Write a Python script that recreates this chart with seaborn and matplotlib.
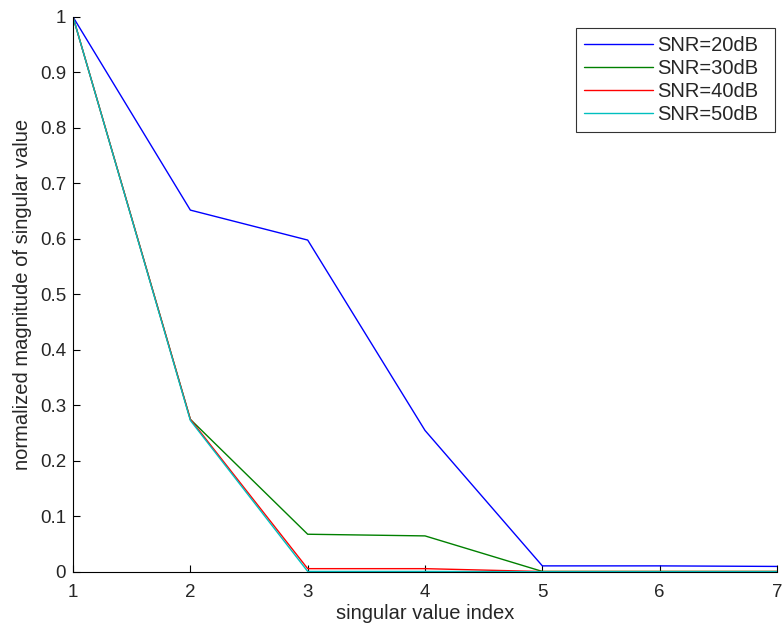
import numpy as np
import pandas as pd
import matplotlib
matplotlib.use("Agg")
import matplotlib.pyplot as plt
import seaborn as sns

index = [1, 2, 3, 4, 5, 6, 7]
snr20 = [1.0, 0.652, 0.598, 0.255, 0.011, 0.011, 0.010]
snr30 = [1.0, 0.275, 0.068, 0.065, 0.001, 0.001, 0.001]
snr40 = [1.0, 0.275, 0.006, 0.006, 0.0008, 0.0008, 0.0008]
snr50 = [1.0, 0.273, 0.001, 0.001, 0.0005, 0.0005, 0.0005]
labels = ["SNR=20dB", "SNR=30dB", "SNR=40dB", "SNR=50dB"]
colors = ["#0000ff", "#008000", "#ff0000", "#00bfbf"]

rows = []
for lab, vals in zip(labels, [snr20, snr30, snr40, snr50]):
    for i, v in zip(index, vals):
        rows.append({"idx": i, "val": v, "snr": lab})
df = pd.DataFrame(rows)

sns.set_style("white")
plt.rcParams['font.family'] = ['Liberation Sans', 'DejaVu Sans']
plt.rcParams['xtick.direction'] = 'in'
plt.rcParams['ytick.direction'] = 'in'

fig = plt.figure(figsize=(7.82, 6.28), dpi=100)
ax = fig.add_axes([0.0934, 0.0892, 0.9002, 0.8838])
sns.lineplot(data=df, x="idx", y="val", hue="snr", palette=colors, ax=ax,
             linewidth=1.0, legend=True)

ax.set_xlim(1, 7)
ax.set_ylim(0, 1)
ax.set_xticks(index)
ax.set_xticklabels([str(i) for i in index])
yt = [0, 0.1, 0.2, 0.3, 0.4, 0.5, 0.6, 0.7, 0.8, 0.9, 1]
ax.set_yticks(yt)
ax.set_yticklabels(["0", "0.1", "0.2", "0.3", "0.4", "0.5", "0.6", "0.7", "0.8", "0.9", "1"])
ax.tick_params(axis='y', labelsize=13.5, length=5, width=0.8, color='black',
               left=True, pad=5)
ax.tick_params(axis='x', labelsize=13.5, length=5, width=0.8, color='black',
               bottom=True, pad=9)
ax.set_xlabel("singular value index", fontsize=14.5, labelpad=2)
ax.set_ylabel("normalized magnitude of singular value", fontsize=14.5, labelpad=6)
for s in ["top", "right"]:
    ax.spines[s].set_visible(False)
for s in ["left", "bottom"]:
    ax.spines[s].set_color("black")
    ax.spines[s].set_linewidth(0.8)

leg = ax.legend(loc="upper right", bbox_to_anchor=(0.7145, 0.5, 0.2825, 0.48),
                mode="expand", fontsize=14.5,
                frameon=True, fancybox=False, edgecolor="black", handlelength=3.4,
                borderpad=0.4, labelspacing=0.2, handletextpad=0.25,
                borderaxespad=0.0)
leg.get_frame().set_linewidth(0.8)

fig.savefig("out.png", dpi=100)
